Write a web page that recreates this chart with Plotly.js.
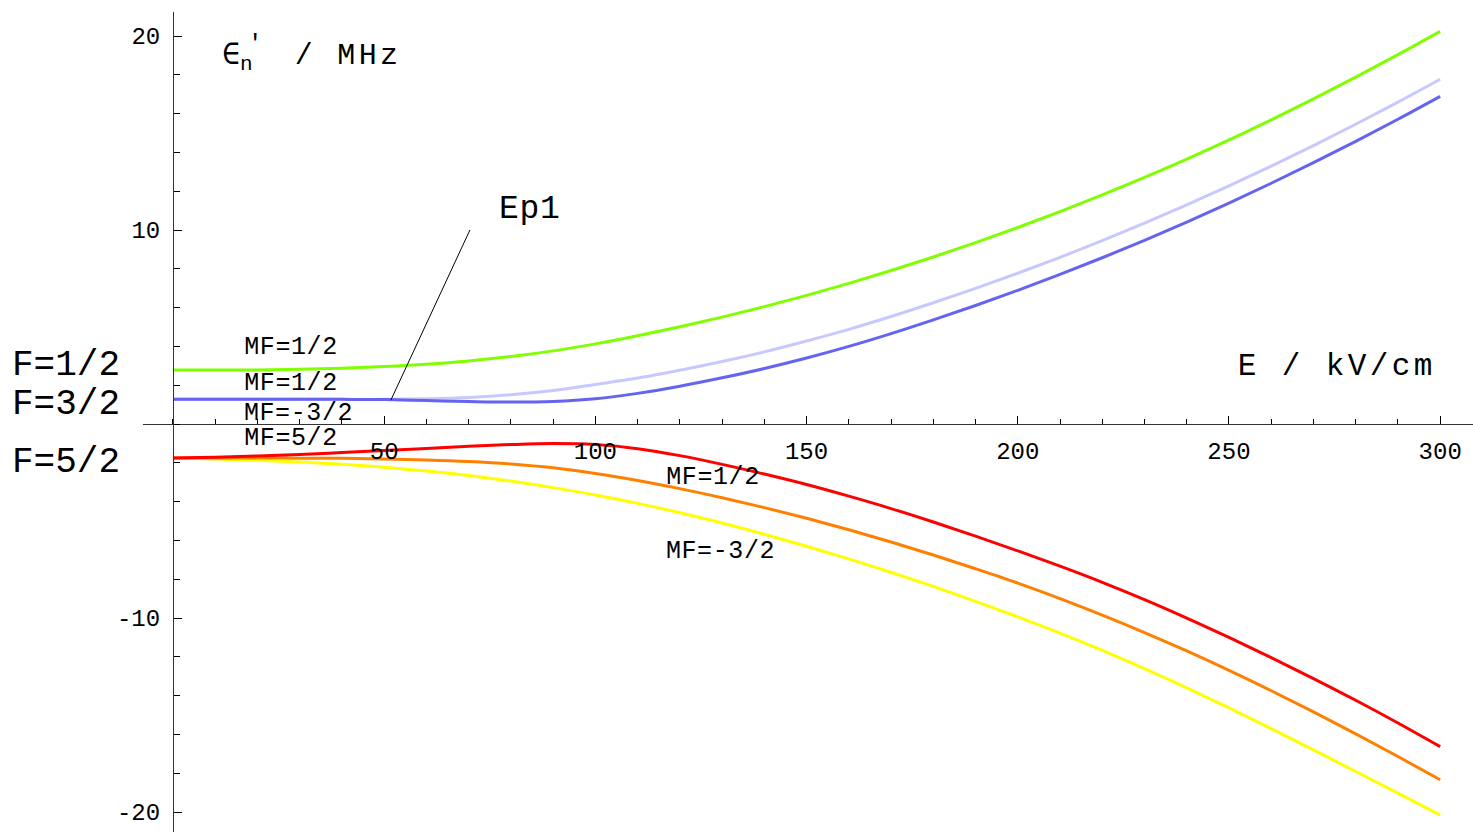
<!DOCTYPE html>
<html>
<head>
<meta charset="utf-8">
<script src="https://cdn.plot.ly/plotly-3.0.1.min.js"></script>
<style>
  html, body { margin: 0; padding: 0; background: #fff; }
  #chart { width: 1473px; height: 832px; }
</style>
</head>
<body>
<div id="chart"></div>
<script>
// ---- data (E in kV/cm, energies in MHz) ----
const fieldE = [0, 10, 20, 30, 40, 50, 60, 70, 80, 90, 100, 110, 120, 130, 140, 150,
                160, 170, 180, 190, 200, 210, 220, 230, 240, 250, 260, 270, 280, 290, 300];

// F = 1/2, MF = 1/2
const f12_mf12 = [2.78, 2.78, 2.79, 2.82, 2.87, 2.96, 3.08, 3.25, 3.48, 3.77, 4.13, 4.55, 5.01, 5.51, 6.05, 6.63,
                  7.25, 7.91, 8.61, 9.35, 10.13, 10.95, 11.81, 12.71, 13.65, 14.64, 15.68, 16.76, 17.88, 19.04, 20.24];
// F = 3/2, MF = 1/2 (light)
const f32_mf12 = [1.27, 1.27, 1.27, 1.27, 1.27, 1.27, 1.30, 1.37, 1.51, 1.73, 2.04, 2.37, 2.77, 3.22, 3.72, 4.28,
                  4.88, 5.54, 6.25, 6.99, 7.77, 8.59, 9.45, 10.35, 11.29, 12.27, 13.29, 14.35, 15.45, 16.59, 17.77];
// F = 3/2, MF = -3/2 (dark)
const f32_mf32 = [1.27, 1.27, 1.27, 1.27, 1.27, 1.26, 1.21, 1.16, 1.13, 1.16, 1.30, 1.58, 1.95, 2.38, 2.86, 3.40,
                  4.00, 4.66, 5.37, 6.11, 6.89, 7.71, 8.57, 9.47, 10.41, 11.39, 12.41, 13.47, 14.57, 15.71, 16.89];
// F = 5/2, MF = 5/2
const f52_mf52 = [-1.75, -1.71, -1.65, -1.57, -1.47, -1.37, -1.26, -1.15, -1.06, -1.01, -1.06, -1.27, -1.63, -2.08, -2.58, -3.12,
                  -3.72, -4.36, -5.05, -5.78, -6.54, -7.33, -8.16, -9.05, -10.00, -11.00, -12.04, -13.12, -14.24, -15.41, -16.63];
// F = 5/2, MF = 1/2
const f52_mf12 = [-1.75, -1.75, -1.75, -1.76, -1.77, -1.80, -1.85, -1.93, -2.06, -2.26, -2.55, -2.91, -3.33, -3.80, -4.31, -4.86,
                  -5.45, -6.08, -6.75, -7.46, -8.20, -9.00, -9.85, -10.75, -11.70, -12.70, -13.75, -14.84, -15.97, -17.14, -18.34];
// F = 5/2, MF = -3/2
const f52_mf32 = [-1.75, -1.80, -1.87, -1.96, -2.08, -2.23, -2.42, -2.65, -2.94, -3.28, -3.66, -4.09, -4.57, -5.10, -5.68, -6.30,
                  -6.95, -7.64, -8.37, -9.14, -9.94, -10.78, -11.67, -12.61, -13.60, -14.63, -15.70, -16.80, -17.91, -19.03, -20.16];

const xTickVals = [50, 100, 150, 200, 250, 300];
const xTickText = ["50", "100", "150", "200", "250", "300"];
const yTickVals = [-20, -10, 10, 20];
const yTickText = ["-20", "-10", "10", "20"];

// pointer line for "Ep1": from curve point to near label
const ep1PointerX = [51.6, 70.3];
const ep1PointerY = [1.24, 10.0];

// ---- figure ----
const W = 1473, H = 832;
const mono = "'Liberation Mono', 'Courier New', monospace";

function line(x, y, color, width) {
  return { x: x, y: y, type: 'scatter', mode: 'lines', hoverinfo: 'skip',
           line: { color: color, width: width, shape: 'spline', smoothing: 1 } };
}

const traces = [
  line(fieldE, f52_mf32, '#ffff00', 3),
  line(fieldE, f52_mf12, '#ff8000', 3),
  line(fieldE, f52_mf52, '#ff0000', 3),
  line(fieldE, f12_mf12, '#80ff00', 3),
  line(fieldE, f32_mf12, '#c8c8ff', 3),
  line(fieldE, f32_mf32, '#6464f0', 3),
  { x: ep1PointerX, y: ep1PointerY, type: 'scatter', mode: 'lines', hoverinfo: 'skip',
    line: { color: '#000', width: 1 } }
];

function px(xp) { return xp / W; }
function py(yp) { return 1 - yp / H; }
const spacing = [];
function note(text, xp, yp, size, ls) {
  spacing.push(ls || 0);
  return { text: text, xref: 'paper', yref: 'paper', x: px(xp), y: py(yp),
           xanchor: 'left', yanchor: 'middle', showarrow: false,
           font: { family: mono, size: size, color: '#000' } };
}

const annotations = [
  note('MF=1/2', 244, 347, 25, 0.6),
  note('MF=1/2', 244, 383, 25, 0.6),
  note('MF=-3/2', 244, 413, 25, 0.6),
  note('MF=5/2', 244, 438, 25, 0.6),
  note('MF=1/2', 666, 478, 25, 0.6),
  note('MF=-3/2', 666, 551, 25, 0.6),
  note('Ep1', 498, 209, 33, 0.6),
  note('E / kV/cm', 1251, 366, 31, 3.4),
  note('∈<sub>n</sub>', 220, 58, 30, 0),
  note("'", 246, 44, 24, 0),
  note('/ MHz', 301, 56, 30, 3.3),
  note('F=1/2', 10, 365, 36, 0),
  note('F=3/2', 10, 404, 36, 0),
  note('F=5/2', 10, 462, 36, 0)
];

const yLo = -21.03, yHi = 21.237;
const xLo = -7.10, xHi = 307.77;

const layout = {
  width: W, height: H,
  margin: { l: 0, r: 0, t: 0, b: 0, pad: 0 },
  paper_bgcolor: '#ffffff', plot_bgcolor: 'rgba(0,0,0,0)',
  showlegend: false,
  xaxis: {
    domain: [143 / W, 1], range: [xLo, xHi],
    anchor: 'free', position: (H - 424) / H,
    showgrid: false, zeroline: false,
    showline: true, linecolor: '#333', linewidth: 1,
    ticks: 'inside', ticklen: 8, tickwidth: 1, tickcolor: '#000',
    tickmode: 'array', tickvals: xTickVals, ticktext: xTickText,
    tickfont: { family: mono, size: 24, color: '#000' },
    ticklabelstandoff: 5,
    minor: { ticks: 'inside', ticklen: 5, tickwidth: 1, tickcolor: '#000', tickmode: 'linear', tick0: 0, dtick: 10 }
  },
  yaxis: {
    domain: [0, (H - 12) / H], range: [yLo, yHi],
    anchor: 'free', position: 173 / W,
    showgrid: false, zeroline: false,
    showline: true, linecolor: '#333', linewidth: 1,
    ticks: 'inside', ticklen: 8, tickwidth: 1, tickcolor: '#000',
    tickmode: 'array', tickvals: yTickVals, ticktext: yTickText,
    tickfont: { family: mono, size: 24, color: '#000' },
    ticklabelstandoff: 8,
    minor: { ticks: 'inside', ticklen: 6, tickwidth: 1, tickcolor: '#000', tickmode: 'linear', tick0: 0, dtick: 2 }
  },
  annotations: annotations
};

Plotly.newPlot('chart', traces, layout, { staticPlot: true, displayModeBar: false }).then(function (gd) {
  // widen letter spacing to mimic the wide Courier rendering of the original
  spacing.forEach(function (ls, i) {
    if (!ls) return;
    const t = gd.querySelector('g.annotation[data-index="' + i + '"] text.annotation-text');
    if (t) t.style.letterSpacing = ls + 'px';
  });
});
</script>
</body>
</html>
